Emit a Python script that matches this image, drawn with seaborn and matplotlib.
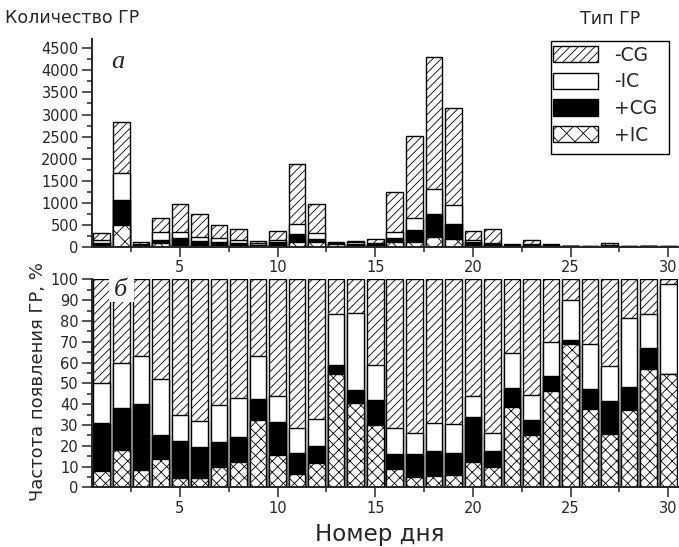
import numpy as np
import matplotlib.pyplot as plt
import seaborn as sns
from matplotlib.patches import Patch, Rectangle
from matplotlib.ticker import MultipleLocator

# Номер дня
days = list(range(1, 31))

# общее количество ГР за день (панель а)
total = [320, 2830, 130, 660, 980, 750, 505, 410, 140, 370,
         1880, 980, 120, 142, 180, 1245, 2510, 4300, 3140, 362,
         407, 68, 155, 81, 36, 36, 97, 36, 36, 25]

# доли типов ГР, % (панель б)
plus_ic = [8.0, 17.9, 8.5, 13.6, 4.6, 4.6, 9.9, 12.3, 32.4, 15.5,
           6.3, 11.9, 54.6, 40.5, 30.1, 9.0, 5.1, 5.6, 6.1, 12.3,
           9.8, 38.8, 25.3, 46.5, 69.1, 37.7, 25.6, 37.2, 56.9, 54.3]
plus_cg = [22.9, 20.2, 31.6, 11.6, 17.7, 14.8, 11.9, 11.9, 10.1, 15.9,
           10.2, 8.0, 4.2, 6.3, 11.9, 7.0, 10.9, 11.9, 10.6, 21.5,
           7.7, 9.0, 7.1, 7.0, 1.7, 9.6, 15.9, 11.0, 10.1, 0.0]
minus_ic = [19.4, 21.5, 23.2, 26.7, 12.3, 12.3, 17.6, 18.6, 20.5, 12.4,
            11.9, 12.8, 24.4, 37.0, 17.0, 12.4, 10.0, 13.3, 13.6, 10.1,
            8.6, 16.6, 11.8, 16.2, 19.1, 21.8, 16.7, 33.0, 16.2, 43.3]
minus_cg = [49.7, 40.4, 36.7, 48.1, 65.4, 68.3, 60.6, 57.2, 37.0, 56.2,
            71.6, 67.3, 16.8, 16.2, 41.0, 71.6, 74.0, 69.2, 69.7, 56.1,
            73.9, 35.6, 55.8, 30.3, 10.1, 30.9, 41.8, 18.8, 16.8, 2.4]

labels = ['-CG', '-IC', '+CG', '+IC']

sns.set_style('ticks')
plt.rcParams['font.family'] = ['DejaVu Sans']
plt.rcParams['hatch.linewidth'] = 0.6

# накопленные уровни снизу вверх: +IC, +CG, -IC, -CG
cum_pct = np.array([plus_ic, plus_cg, minus_ic, minus_cg]).cumsum(axis=0)
cum_cnt = cum_pct / 100 * np.array(total)

W, H = 679, 547
fig = plt.figure(figsize=(W / 100, H / 100), dpi=100)
ax1 = fig.add_axes([92 / W, 0.5479, 586 / W, 0.3803])
ax2 = fig.add_axes([92 / W, 0.1091, 586 / W, 0.3803])


def draw_stack(ax, levels, xhatch):
    # рисуем сверху вниз, каждый следующий столбик перекрывает предыдущий
    looks = [('white', '////'), ('white', ''), ('black', ''), ('white', xhatch)]
    for lev, (col, hat) in zip(levels[::-1], looks):
        sns.barplot(x=days, y=lev, ax=ax, native_scale=True, width=0.85,
                    color=col, hatch=hat, edgecolor='black', linewidth=1,
                    saturation=1, errorbar=None)
    ax.set_xlim(0.5, 30.5)
    ax.xaxis.set_major_locator(MultipleLocator(5))
    ax.xaxis.set_minor_locator(MultipleLocator(2.5))
    ax.set_xlabel('')
    ax.set_ylabel('')
    sns.despine(ax=ax)
    for s in ('left', 'bottom'):
        ax.spines[s].set_linewidth(1.4)
    ax.tick_params(which='major', length=7, width=1.1, direction='out',
                   labelsize=10.5, pad=2.5)
    ax.tick_params(which='minor', length=3.5, width=1.1, direction='out')


draw_stack(ax1, cum_cnt, 'xx')
ax1.set_ylim(0, 4700)
ax1.yaxis.set_major_locator(MultipleLocator(500))
ax1.yaxis.set_minor_locator(MultipleLocator(250))

draw_stack(ax2, cum_pct, 'xxx')
ax2.set_ylim(0, 100)
ax2.yaxis.set_major_locator(MultipleLocator(10))
ax2.yaxis.set_minor_locator(MultipleLocator(5))

# подписи
fig.text(5 / W, 1 - 18 / H, 'Количество ГР', ha='left', va='center', fontsize=12.5)
fig.text(610 / W, 1 - 19 / H, 'Тип ГР', ha='center', va='center', fontsize=12.5)
fig.text(380 / W, 1 - 535 / H, 'Номер дня', ha='center', va='center', fontsize=16.5)
fig.text(38 / W, 1 - 382 / H, 'Частота появления ГР, %', rotation=90,
         ha='center', va='center', fontsize=13)

fig.text(118 / W, 1 - 62 / H, 'а', ha='center', va='center', fontsize=19,
         fontstyle='italic', family='Liberation Serif')
fig.add_artist(Rectangle((109 / W, 1 - 302 / H), 25 / W, 23 / H,
                         transform=fig.transFigure, facecolor='white',
                         edgecolor='none', zorder=5))
fig.text(120 / W, 1 - 290 / H, 'б', ha='center', va='center', fontsize=19,
         fontstyle='italic', family='Liberation Serif', zorder=6)

# легенда
handles = [Patch(facecolor='white', edgecolor='black', hatch='////'),
           Patch(facecolor='white', edgecolor='black'),
           Patch(facecolor='black', edgecolor='black'),
           Patch(facecolor='white', edgecolor='black', hatch='xx')]
fig.legend(handles, labels, loc='upper left', bbox_to_anchor=(552.7 / W, 1 - 45.7 / H),
           frameon=False, fontsize=13.5, borderpad=0, borderaxespad=0,
           handlelength=2.43, handleheight=0.96, handletextpad=0.84,
           labelspacing=0.41)
fig.add_artist(Rectangle((551 / W, 1 - 154 / H), 118 / W, 113.3 / H,
                         transform=fig.transFigure, fill=False,
                         edgecolor='black', linewidth=1))

fig.savefig('out.png', dpi=100)
